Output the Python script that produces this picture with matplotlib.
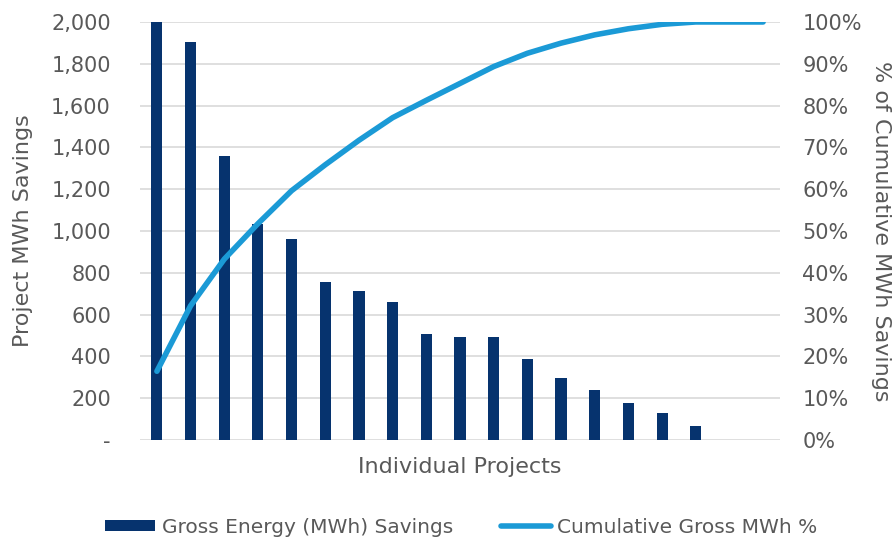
import numpy as np
import matplotlib
matplotlib.use("Agg")
import matplotlib.pyplot as plt
from matplotlib.ticker import FuncFormatter

# savings per project (MWh), sorted largest first
savings = [2000, 1905, 1358, 1033, 960, 755, 712, 658, 505, 491, 491,
           387, 295, 241, 178, 129, 68, 0, 0]
left_ticks = [0, 200, 400, 600, 800, 1000, 1200, 1400, 1600, 1800, 2000]
right_ticks = [0, 10, 20, 30, 40, 50, 60, 70, 80, 90, 100]

bar_color = "#06336E"
line_color = "#1B9AD6"
text_color = "#595959"
grid_color = "#D9D9D9"

plt.rcParams['font.family'] = ['DejaVu Sans']

x = np.arange(len(savings))
cum_pct = np.cumsum(savings) / np.sum(savings) * 100

fig = plt.figure(figsize=(8.96, 5.44), dpi=100)
ax = fig.add_axes([0.1563, 0.1912, 0.7142, 0.7684])
ax2 = ax.twinx()

ax.set_axisbelow(True)
ax.yaxis.grid(True, color=grid_color, lw=1.2)
ax.bar(x, savings, width=0.33, color=bar_color, label="Gross Energy (MWh) Savings", zorder=2)
ax2.plot(x, cum_pct, color=line_color, lw=4, solid_capstyle="round",
         label="Cumulative Gross MWh %", zorder=3)

ax.set_xlim(-0.5, len(savings) - 0.5)
ax.set_ylim(0, 2000)
ax2.set_ylim(0, 100)
ax.set_yticks(left_ticks)
ax2.set_yticks(right_ticks)
ax.yaxis.set_major_formatter(FuncFormatter(lambda v, p: "-" if v == 0 else "{:,.0f}".format(v)))
ax2.yaxis.set_major_formatter(FuncFormatter(lambda v, p: "{:.0f}%".format(v)))
ax.set_xticks([])

for a in (ax, ax2):
    for s in a.spines.values():
        s.set_visible(False)
    a.tick_params(axis="y", length=0, labelsize=15, labelcolor=text_color)
ax.tick_params(axis="y", pad=21)
ax2.tick_params(axis="y", pad=16)

ax.set_ylabel("Project MWh Savings", fontsize=16, color=text_color)
ax.yaxis.set_label_coords(-0.167, 0.5)
ax2.set_ylabel("% of Cumulative MWh Savings", fontsize=16, color=text_color, rotation=270)
ax2.yaxis.label.set_va("bottom")
ax2.yaxis.set_label_coords(1.143, 0.5)
ax.set_xlabel("Individual Projects", fontsize=16, color=text_color, labelpad=12)

h1, l1 = ax.get_legend_handles_labels()
h2, l2 = ax2.get_legend_handles_labels()
leg = fig.legend(h1 + h2, l1 + l2, loc="center", bbox_to_anchor=(0.515, 0.031),
                 ncol=2, frameon=False, fontsize=14.5, handlelength=2.5,
                 handleheight=0.5, handletextpad=0.3, columnspacing=2.4)
for t in leg.get_texts():
    t.set_color(text_color)

fig.savefig("out.png", dpi=100)
